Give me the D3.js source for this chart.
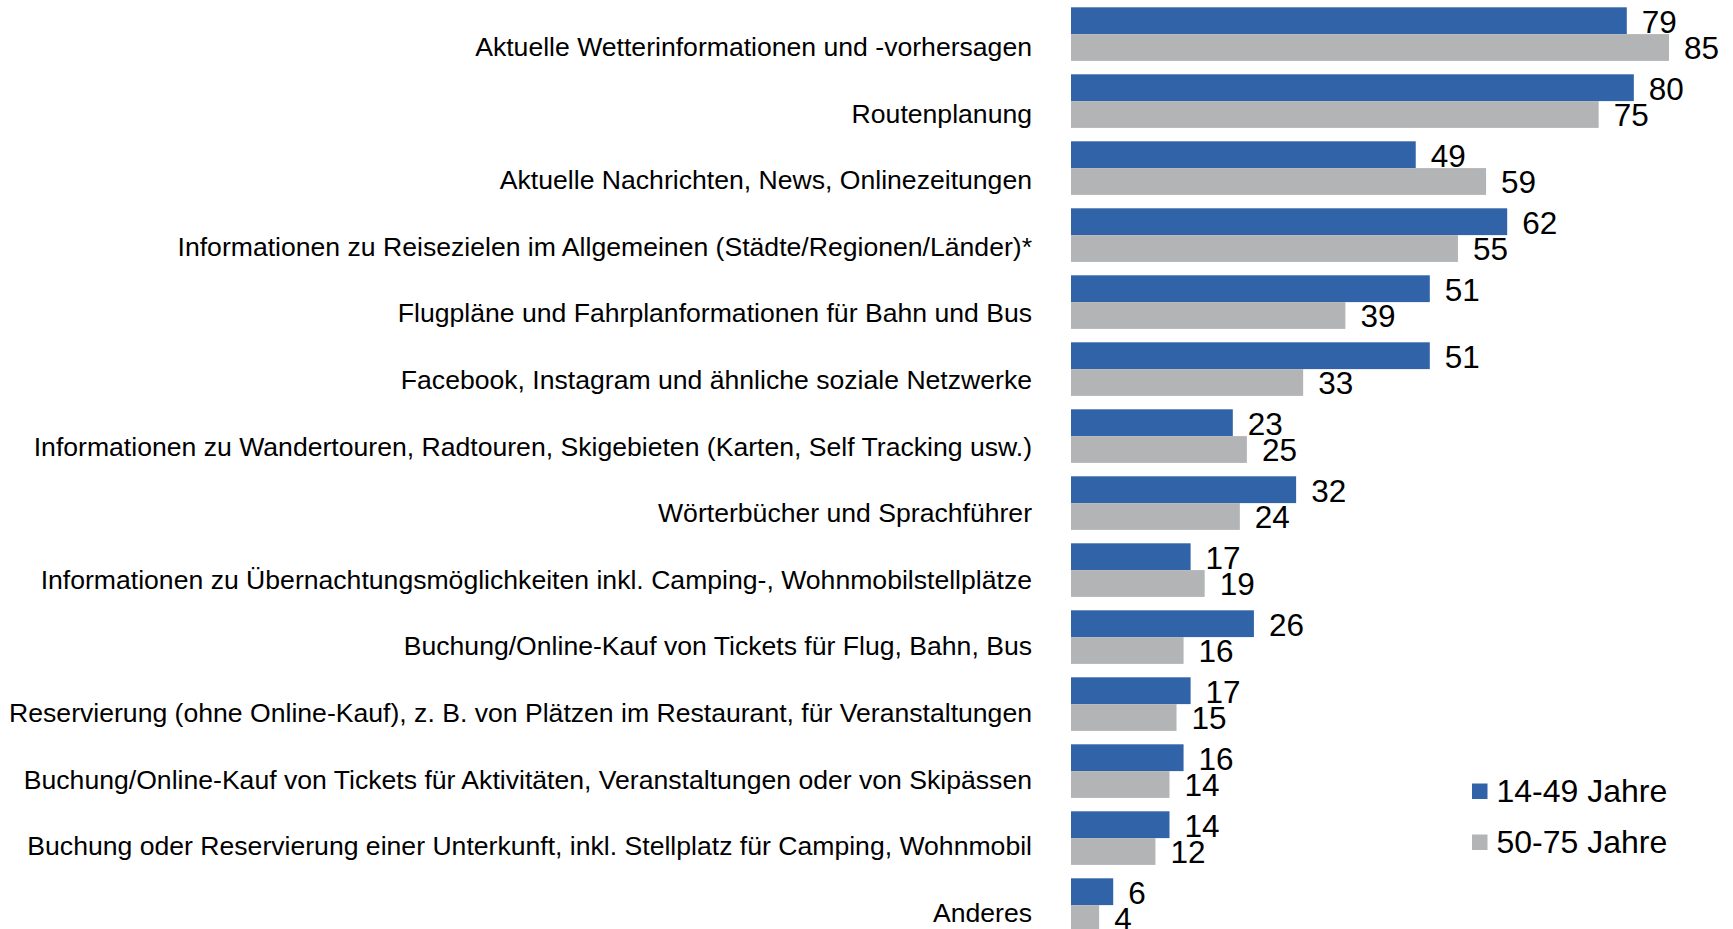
<!DOCTYPE html>
<html>
<head>
<meta charset="utf-8">
<script src="https://cdn.jsdelivr.net/npm/d3@7"></script>
<style>
  html, body { margin: 0; padding: 0; background: #fff; overflow: hidden; }
  svg { display: block; }
  text { font-family: "Liberation Sans", Arial, sans-serif; fill: #000; }
</style>
</head>
<body>
<svg id="chart" width="1733" height="929"></svg>
<script>
const categories = [
  "Aktuelle Wetterinformationen und -vorhersagen",
  "Routenplanung",
  "Aktuelle Nachrichten, News, Onlinezeitungen",
  "Informationen zu Reisezielen im Allgemeinen (Städte/Regionen/Länder)*",
  "Flugpläne und Fahrplanformationen für Bahn und Bus",
  "Facebook, Instagram und ähnliche soziale Netzwerke",
  "Informationen zu Wandertouren, Radtouren, Skigebieten (Karten, Self Tracking usw.)",
  "Wörterbücher und Sprachführer",
  "Informationen zu Übernachtungsmöglichkeiten inkl. Camping-, Wohnmobilstellplätze",
  "Buchung/Online-Kauf von Tickets für Flug, Bahn, Bus",
  "Reservierung (ohne Online-Kauf), z. B. von Plätzen im Restaurant, für Veranstaltungen",
  "Buchung/Online-Kauf von Tickets für Aktivitäten, Veranstaltungen oder von Skipässen",
  "Buchung oder Reservierung einer Unterkunft, inkl. Stellplatz für Camping, Wohnmobil",
  "Anderes"
];
const seriesNames = ["14-49 Jahre", "50-75 Jahre"];
const values1449 = [79, 80, 49, 62, 51, 51, 23, 32, 17, 26, 17, 16, 14, 6];
const values5075 = [85, 75, 59, 55, 39, 33, 25, 24, 19, 16, 15, 14, 12, 4];
const seriesColors = ["#3163A9", "#B3B4B6"];

const rows = categories.map((c, i) => ({ cat: c, vals: [values1449[i], values5075[i]] }));

const svg = d3.select("#chart");
const barLeft = 1071;

const x = d3.scaleLinear().domain([0, 85]).range([barLeft, barLeft + 598]);
const y = d3.scaleBand().domain(categories).range([0.6, 0.6 + 67 * categories.length])
  .paddingInner(0.2).paddingOuter(0.1);
const ySub = d3.scaleBand().domain([0, 1]).range([0, y.bandwidth()]);

const g = svg.append("g");

const groups = g.selectAll("g.row").data(rows).join("g")
  .attr("class", "row")
  .attr("transform", d => `translate(0,${y(d.cat)})`);

groups.selectAll("rect").data(d => d.vals.map((v, k) => ({ v, k }))).join("rect")
  .attr("x", x(0))
  .attr("y", d => ySub(d.k))
  .attr("width", d => x(d.v) - x(0))
  .attr("height", ySub.bandwidth())
  .attr("fill", d => seriesColors[d.k]);

groups.selectAll("text.val").data(d => d.vals.map((v, k) => ({ v, k }))).join("text")
  .attr("class", "val")
  .attr("x", d => x(d.v) + 15)
  .attr("y", d => ySub(d.k) + ySub.bandwidth() / 2)
  .attr("dy", "0.38em")
  .style("font-size", "31.5px")
  .text(d => d.v);

// category axis labels (aligned with second bar, slightly tighter spacing)
const yLab = d3.scaleBand().domain(categories)
  .range([0.6, 0.6 + 66.6 * categories.length]).paddingInner(0.2).paddingOuter(0.1);
const yAxis = d3.axisLeft(yLab).tickSize(0).tickPadding(0);
const axisG = svg.append("g")
  .attr("transform", `translate(1032,${ySub(1) + ySub.bandwidth() / 2 - yLab.bandwidth() / 2})`)
  .call(yAxis);
axisG.select(".domain").remove();
axisG.selectAll("text")
  .attr("dy", "0.32em")
  .style("font-size", "26.6px")
  .style("font-family", "'Liberation Sans', Arial, sans-serif")
  .attr("fill", "#000");

// legend
const legend = svg.append("g").attr("transform", "translate(1472,783.5)");
const lg = legend.selectAll("g").data(seriesNames).join("g")
  .attr("transform", (d, i) => `translate(0,${i * 51})`);
lg.append("rect").attr("width", 15.5).attr("height", 15.5)
  .attr("fill", (d, i) => seriesColors[i]);
lg.append("text").attr("x", 24.5).attr("y", 18.8)
  .style("font-size", "32px")
  .text(d => d);
</script>
</body>
</html>
